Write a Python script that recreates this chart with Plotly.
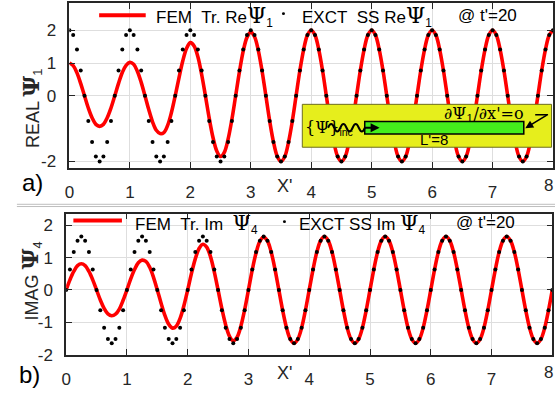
import numpy as np
import plotly.graph_objects as go

W, H = 555, 402

# sample positions along the guide, x' = 0 ... 8 (16 samples per wavelength)
x_grid = np.linspace(0.0, 8.0, 129)

# exact steady-state Re(Psi_1)
re_exact = [
    2.0, 1.85, 1.41, 0.77, 0.0, -0.77, -1.41, -1.85, -2.0, -1.85, -1.41, -0.77, 0.0, 0.77, 1.41, 1.85,
    2.0, 1.85, 1.41, 0.77, 0.0, -0.77, -1.41, -1.85, -2.0, -1.85, -1.41, -0.77, 0.0, 0.77, 1.41, 1.85,
    2.0, 1.85, 1.41, 0.77, 0.0, -0.77, -1.41, -1.85, -2.0, -1.85, -1.41, -0.77, 0.0, 0.77, 1.41, 1.85,
    2.0, 1.85, 1.41, 0.77, 0.0, -0.77, -1.41, -1.85, -2.0, -1.85, -1.41, -0.77, 0.0, 0.77, 1.41, 1.85,
    2.0, 1.85, 1.41, 0.77, 0.0, -0.77, -1.41, -1.85, -2.0, -1.85, -1.41, -0.77, 0.0, 0.77, 1.41, 1.85,
    2.0, 1.85, 1.41, 0.77, 0.0, -0.77, -1.41, -1.85, -2.0, -1.85, -1.41, -0.77, 0.0, 0.77, 1.41, 1.85,
    2.0, 1.85, 1.41, 0.77, 0.0, -0.77, -1.41, -1.85, -2.0, -1.85, -1.41, -0.77, 0.0, 0.77, 1.41, 1.85,
    2.0, 1.85, 1.41, 0.77, 0.0, -0.77, -1.41, -1.85, -2.0, -1.85, -1.41, -0.77, 0.0, 0.77, 1.41, 1.85,
    2.0,
]

# transient FEM Re(Psi_1) at t' = 20
re_fem = [
    1.0, 0.92, 0.70, 0.37, 0.0, -0.37, -0.67, -0.87, -0.93, -0.87, -0.67, -0.37, 0.0, 0.38, 0.71, 0.93,
    1.02, 0.96, 0.74, 0.41, 0.0, -0.42, -0.79, -1.05, -1.15, -1.12, -0.90, -0.51, 0.0, 0.55, 1.06, 1.44,
    1.62, 1.52, 1.19, 0.65, 0.0, -0.68, -1.27, -1.68, -1.85, -1.72, -1.32, -0.72, 0.0, 0.73, 1.36, 1.78,
    1.94, 1.80, 1.38, 0.75, 0.0, -0.76, -1.40, -1.84, -2.0, -1.85, -1.41, -0.77, 0.0, 0.77, 1.41, 1.85,
    2.0, 1.85, 1.41, 0.77, 0.0, -0.77, -1.41, -1.85, -2.0, -1.85, -1.41, -0.77, 0.0, 0.77, 1.41, 1.85,
    2.0, 1.85, 1.41, 0.77, 0.0, -0.77, -1.41, -1.85, -2.0, -1.85, -1.41, -0.77, 0.0, 0.77, 1.41, 1.85,
    2.0, 1.85, 1.41, 0.77, 0.0, -0.77, -1.41, -1.85, -2.0, -1.85, -1.41, -0.77, 0.0, 0.77, 1.41, 1.85,
    2.0, 1.85, 1.41, 0.77, 0.0, -0.77, -1.41, -1.85, -2.0, -1.85, -1.41, -0.77, 0.0, 0.77, 1.41, 1.85,
    2.0,
]

# exact steady-state Im(Psi_4)
im_exact = [
    0.0, 0.63, 1.17, 1.52, 1.65, 1.52, 1.17, 0.63, 0.0, -0.63, -1.17, -1.52, -1.65, -1.52, -1.17, -0.63,
    0.0, 0.63, 1.17, 1.52, 1.65, 1.52, 1.17, 0.63, 0.0, -0.63, -1.17, -1.52, -1.65, -1.52, -1.17, -0.63,
    0.0, 0.63, 1.17, 1.52, 1.65, 1.52, 1.17, 0.63, 0.0, -0.63, -1.17, -1.52, -1.65, -1.52, -1.17, -0.63,
    0.0, 0.63, 1.17, 1.52, 1.65, 1.52, 1.17, 0.63, 0.0, -0.63, -1.17, -1.52, -1.65, -1.52, -1.17, -0.63,
    0.0, 0.63, 1.17, 1.52, 1.65, 1.52, 1.17, 0.63, 0.0, -0.63, -1.17, -1.52, -1.65, -1.52, -1.17, -0.63,
    0.0, 0.63, 1.17, 1.52, 1.65, 1.52, 1.17, 0.63, 0.0, -0.63, -1.17, -1.52, -1.65, -1.52, -1.17, -0.63,
    0.0, 0.63, 1.17, 1.52, 1.65, 1.52, 1.17, 0.63, 0.0, -0.63, -1.17, -1.52, -1.65, -1.52, -1.17, -0.63,
    0.0, 0.63, 1.17, 1.52, 1.65, 1.52, 1.17, 0.63, 0.0, -0.63, -1.17, -1.52, -1.65, -1.52, -1.17, -0.63,
    0.0,
]

# transient FEM Im(Psi_4) at t' = 20
im_fem = [
    0.0, 0.31, 0.57, 0.75, 0.81, 0.75, 0.57, 0.31, 0.0, -0.31, -0.57, -0.74, -0.80, -0.75, -0.59, -0.32,
    0.0, 0.34, 0.63, 0.84, 0.92, 0.88, 0.70, 0.39, 0.0, -0.41, -0.79, -1.06, -1.18, -1.12, -0.88, -0.49,
    0.0, 0.51, 0.96, 1.28, 1.41, 1.32, 1.03, 0.56, 0.0, -0.58, -1.08, -1.43, -1.57, -1.46, -1.12, -0.61,
    0.0, 0.62, 1.14, 1.50, 1.63, 1.51, 1.16, 0.63, 0.0, -0.63, -1.16, -1.52, -1.65, -1.52, -1.17, -0.63,
    0.0, 0.63, 1.17, 1.52, 1.65, 1.52, 1.17, 0.63, 0.0, -0.63, -1.17, -1.52, -1.65, -1.52, -1.17, -0.63,
    0.0, 0.63, 1.17, 1.52, 1.65, 1.52, 1.17, 0.63, 0.0, -0.63, -1.17, -1.52, -1.65, -1.52, -1.17, -0.63,
    0.0, 0.63, 1.17, 1.52, 1.65, 1.52, 1.17, 0.63, 0.0, -0.63, -1.17, -1.52, -1.65, -1.52, -1.17, -0.63,
    0.0, 0.63, 1.17, 1.52, 1.65, 1.52, 1.17, 0.63, 0.0, -0.63, -1.17, -1.52, -1.65, -1.52, -1.17, -0.63,
    0.0,
]

x_ticks = [0, 1, 2, 3, 4, 5, 6, 7, 8]
re_ticks = [-2, 0, 1, 2]
im_ticks = [-2, -1, 0, 1, 2]

RED = "#ff0000"
INK = "#262626"
GRID = "#dedede"
SANS = "Liberation Sans, Arial, sans-serif"
SERIF = "DejaVu Serif, Liberation Serif, serif"
TICK_SIZE = 17


def px(x):
    return x / W


def py(y):
    return 1 - y / H


fig = go.Figure()
fig.add_trace(go.Scatter(x=x_grid, y=re_fem, mode="lines", line=dict(color=RED, width=3.6, shape="spline"),
                         xaxis="x", yaxis="y", showlegend=False))
fig.add_trace(go.Scatter(x=x_grid, y=re_exact, mode="markers", marker=dict(color="black", size=4),
                         xaxis="x", yaxis="y", showlegend=False))
fig.add_trace(go.Scatter(x=x_grid, y=im_fem, mode="lines", line=dict(color=RED, width=3.6, shape="spline"),
                         xaxis="x2", yaxis="y2", showlegend=False))
fig.add_trace(go.Scatter(x=x_grid, y=im_exact, mode="markers", marker=dict(color="black", size=4),
                         xaxis="x2", yaxis="y2", showlegend=False))

common = dict(ticks="inside", ticklen=6, tickwidth=1, tickcolor=INK, showline=True, linecolor=INK,
              linewidth=1.6, mirror="ticks", showgrid=True, gridcolor=GRID, gridwidth=1, zeroline=False,
              tickfont=dict(family=SANS, size=TICK_SIZE, color=INK))

fig.update_layout(
    width=W, height=H, margin=dict(l=0, r=0, t=0, b=0),
    paper_bgcolor="white", plot_bgcolor="white",
    xaxis=dict(domain=[px(65), px(553)], range=[0, 8], tickvals=x_ticks, anchor="y",
               ticklabelstandoff=8, **common),
    yaxis=dict(domain=[py(172), py(3)], range=[-2.19, 2.83], tickvals=re_ticks,
               ticktext=[str(v) for v in re_ticks], anchor="x", ticklabelstandoff=8, **common),
    xaxis2=dict(domain=[px(61.7), px(552.3)], range=[0, 8], tickvals=x_ticks, anchor="y2",
                ticklabelstandoff=8, **common),
    yaxis2=dict(domain=[py(363.7), py(219)], range=[-2.0, 2.36], tickvals=im_ticks,
                ticktext=[str(v) for v in im_ticks], anchor="x2", ticklabelstandoff=8, **common),
)

shapes = []
ann = []


def rect(x0, y0, x1, y1, fill, line_color=None, lw=0, layer="above"):
    shapes.append(dict(type="rect", xref="paper", yref="paper", x0=px(x0), x1=px(x1), y0=py(y1), y1=py(y0),
                       fillcolor=fill, line=dict(color=line_color or fill, width=lw), layer=layer))


def seg(x0, y0, x1, y1, color, lw, layer="above"):
    shapes.append(dict(type="line", xref="paper", yref="paper", x0=px(x0), x1=px(x1), y0=py(y0), y1=py(y1),
                       line=dict(color=color, width=lw), layer=layer))


def text(x, y, s, size=16, family=SANS, color="black", xanchor="left", angle=0):
    ann.append(dict(x=px(x), y=py(y), xref="paper", yref="paper", text=s, showarrow=False,
                    xanchor=xanchor, yanchor="middle", textangle=angle,
                    font=dict(family=family, size=size, color=color)))


def psi(size=20, bold=False):
    s = "<b>Ψ</b>" if bold else "Ψ"
    return f"<span style='font-family:{SERIF};font-size:{size}px'>{s}</span>"


NB = "\u00a0"

# legend panels (white, over the grid)
rect(66, 4, 552, 28, "white", layer="between")
rect(63, 220, 551, 240, "white", layer="between")

# top legend
seg(95, 15.7, 142, 15.7, RED, 4)
text(150, 16.5, f"FEM{NB}{NB}Tr.{NB}Re{psi(22)}<sub>1</sub>", size=17)
shapes.append(dict(type="circle", xref="paper", yref="paper", x0=px(279.5), x1=px(282.5), y0=py(15.5),
                   y1=py(12.5), fillcolor="black", line=dict(color="black", width=0)))
text(298, 16.5, f"EXCT{NB}{NB}SS{NB}Re{psi(22)}<sub>1</sub>", size=17)
text(455, 15.5, "@ t'=20", size=17)

# bottom legend
seg(69, 226, 118, 226, RED, 4)
text(129, 229.5, f"FEM{NB}{NB}Tr.{NB}Im{NB}{NB}{psi(21)}<sub>4</sub>", size=17)
shapes.append(dict(type="circle", xref="paper", yref="paper", x0=px(280.5), x1=px(283.5), y0=py(228.8),
                   y1=py(225.8), fillcolor="black", line=dict(color="black", width=0)))
text(295, 229.5, f"EXCT{NB}SS{NB}Im{NB}{psi(21)}<sub>4</sub>", size=17)
text(453, 228.5, "@ t'=20", size=17)

# last x tick label, held against the right edge of the page
text(555, 190.5, "8", size=TICK_SIZE, color=INK, xanchor="right")
text(555, 382.5, "8", size=TICK_SIZE, color=INK, xanchor="right")

# axis titles
text(26, 111, f"REAL {psi(23, bold=True)}<sub>1</sub>", size=18, color=INK, xanchor="center", angle=-90)
text(26, 288, f"IMAG {psi(23, bold=True)}<sub>4</sub>", size=18, color=INK, xanchor="center", angle=-90)
text(282, 190.5, "X'", size=18, color=INK, xanchor="center")
text(282, 382.5, "X'", size=18, color=INK, xanchor="center")

# panel letters
text(28, 187, "a)", size=24, color="black", xanchor="center")
text(25, 384, "b)", size=24, color="black", xanchor="center")

# divider between panels
seg(12, 209.5, 555, 209.5, "#bdbdbd", 1)
seg(12, 211.8, 555, 211.8, "#bdbdbd", 1)

# inset: the guide of length L'=8 with incident wave and closed end
rect(300, 107, 551.5, 151, "#e6ee1c", line_color="#6d6d20", lw=1)
rect(363, 124.5, 523.5, 137.5, "#44ee1c", line_color="black", lw=1.5)

half = 6.2
d = f"M{px(326):.5f},{py(131):.5f} Q{px(326 + half / 2):.5f},{py(123.5):.5f} {px(326 + half):.5f},{py(131):.5f}"
for i in range(2, 7):
    d += f" T{px(326 + half * i):.5f},{py(131):.5f}"
shapes.append(dict(type="path", xref="paper", yref="paper", path=d, line=dict(color="black", width=2)))

ann.append(dict(x=px(378), y=py(131), xref="paper", yref="paper", text="", showarrow=True, ax=-17, ay=0,
                arrowhead=2, arrowsize=1, arrowwidth=1.8, arrowcolor="black"))
text(301, 131.5, f"<span style='font-family:{SERIF};font-size:16px'>{{Ψ}}</span><sub>inc</sub>", size=15)
text(441, 117, f"∂Ψ<sub>1</sub>/∂x'=o", size=16, family=SERIF)
text(433, 143.5, "L'=8", size=15, xanchor="center")

seg(535, 117.7, 548, 117.7, "black", 1.5)
ann.append(dict(x=px(525), y=py(131.5), xref="paper", yref="paper", text="", showarrow=True, ax=23, ay=-14,
                arrowhead=2, arrowsize=1, arrowwidth=1.6, arrowcolor="black"))

fig.update_layout(shapes=shapes, annotations=ann)
fig.write_html("out.html")
